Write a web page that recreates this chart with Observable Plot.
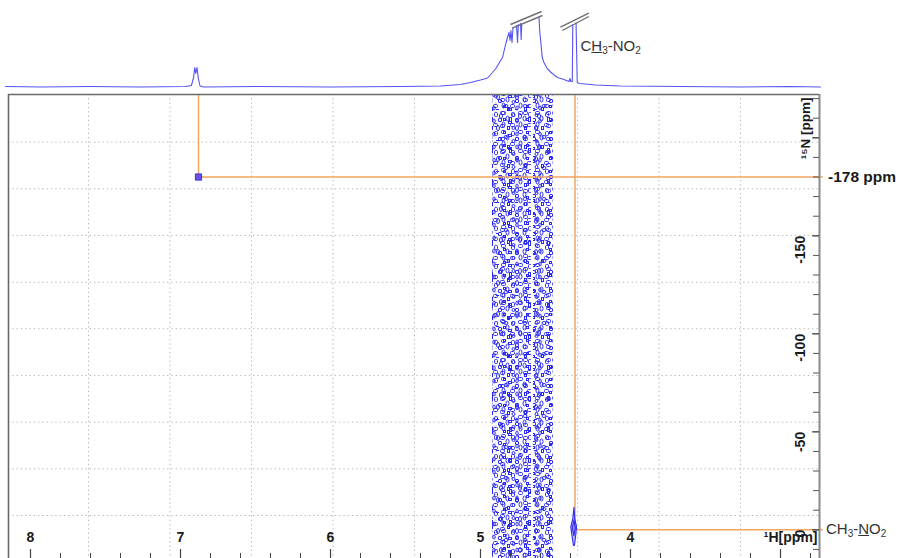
<!DOCTYPE html>
<html><head><meta charset="utf-8">
<script src="https://cdn.jsdelivr.net/npm/d3@7"></script>
<script src="https://cdn.jsdelivr.net/npm/@observablehq/plot@0.6"></script>
<style>
html,body{margin:0;padding:0;background:#fff;}
#chart{position:relative;width:900px;height:558px;overflow:hidden;font-family:"Liberation Sans",Arial,sans-serif;background:#fff;}
#chart svg{display:block;}
.ann{position:absolute;white-space:nowrap;color:#333;font-size:15px;line-height:18px;height:18px;}
.ann sub{font-size:10px;line-height:0;vertical-align:-3px;}
.bold{font-weight:bold;color:#1a1a1a;font-size:15.5px;}
</style></head><body>
<svg width="0" height="0" style="position:absolute">
  <defs>
    <pattern id="noiseA" patternUnits="userSpaceOnUse" width="17" height="19">
      <g fill="none" stroke="#2b2bef" stroke-width="1">
        <rect x="1.5" y="1.5" width="3" height="4" rx="1"/>
        <rect x="8.5" y="0.5" width="4" height="3" rx="1"/>
        <ellipse cx="14.5" cy="7.5" rx="1.5" ry="2.5"/>
        <rect x="5.5" y="7.5" width="3" height="3" rx="0.5"/>
        <rect x="0.5" y="12.5" width="4" height="3" rx="1"/>
        <ellipse cx="10.5" cy="13.5" rx="1.5" ry="2.5"/>
        <rect x="14.5" y="15.5" width="2" height="3"/>
      </g>
    </pattern>
    <pattern id="noiseB" patternUnits="userSpaceOnUse" width="23" height="13">
      <g fill="none" stroke="#2b2bef" stroke-width="1">
        <rect x="2.5" y="3.5" width="3" height="2"/>
        <ellipse cx="11" cy="3" rx="1.2" ry="2"/>
        <rect x="17.5" y="6.5" width="4" height="3" rx="1"/>
        <ellipse cx="7.5" cy="10" rx="1.5" ry="1.5"/>
        <rect x="20.5" y="0.5" width="2" height="2"/>
      </g>
    </pattern>
    <pattern id="noiseC" patternUnits="userSpaceOnUse" width="19" height="31">
      <g fill="none" stroke="#2b2bef" stroke-width="1">
        <ellipse cx="4" cy="5" rx="1.5" ry="2.5"/>
        <ellipse cx="12" cy="14" rx="2" ry="1.5"/>
        <ellipse cx="7" cy="24" rx="1.5" ry="2.5"/>
        <rect x="15.5" y="25.5" width="2" height="4"/>
        <path d="M2 17.5h3"/>
      </g>
    </pattern>
  </defs>
</svg>
<div id="chart"></div>
<script>
// ---------- data ----------
const H1_DOMAIN = [8.1467, 2.74];      // 1H ppm, left -> right
const N15_DOMAIN = [14.64, -222.1];    // 15N ppm, bottom -> top

// 1D 1H projection trace: [ppm, intensity]; null = off-scale (hidden behind break marks)
const spectrum = [
  [8.167,1],[7.933,0.5],[7.6,1],[7.267,0.5],[6.967,1],[6.927,2],[6.913,10],[6.905,20],[6.898,14],
  [6.89,20],[6.881,9],[6.87,1.5],[6.847,0.5],[6.467,1],[6.0,0.5],[5.533,1],[5.267,1.5],[5.133,3],
  [5.067,5],[5.0,7.5],[4.953,9.5],[4.92,15],[4.9,18.5],[4.88,23.5],[4.853,30],[4.833,43],[4.82,50],
  [4.81,55],[4.803,47],[4.797,57],[4.79,45],[4.783,60],[4.78,null],[4.76,62],[4.753,45],[4.748,63],
  [4.745,null],[4.733,64],[4.729,48],[4.725,64],[4.72,null],[4.61,70],[4.605,56],[4.599,47],[4.589,31],
  [4.58,26],[4.567,22],[4.553,18.5],[4.533,15.5],[4.513,13],[4.487,10],[4.453,8.5],[4.427,7],[4.41,6],
  [4.403,9],[4.398,6],[4.388,6],[4.385,63],[4.38,null],[4.363,64.5],[4.355,5],[4.34,4],[4.3,3.5],
  [4.233,2.5],[4.067,1.5],[3.667,1],[3.267,0.5],[2.933,1],[2.733,0.5]
];

// "//" break marks on the off-scale peaks
const breakMarks = [
  {x1: 4.800, y1: 63, x2: 4.593, y2: 76},
  {x1: 4.789, y1: 59.3, x2: 4.587, y2: 72},
  {x1: 4.467, y1: 60.3, x2: 4.278, y2: 74.3},
  {x1: 4.455, y1: 57, x2: 4.278, y2: 71}
];

// cross peaks (1H ppm, 15N ppm)
const crossPeaks = [
  {h: 6.88, n: -180},
  {h: 4.37, n: 0}
];

// contour rings of the CH3-NO2 cross peak
const ch3Contours = [
  {ring: "outer", h: 4.377, n: -11.5}, {ring: "outer", h: 4.372, n: -6}, {ring: "outer", h: 4.360, n: -1.5},
  {ring: "outer", h: 4.364, n: 2}, {ring: "outer", h: 4.374, n: 8}, {ring: "outer", h: 4.380, n: 8},
  {ring: "outer", h: 4.392, n: 2}, {ring: "outer", h: 4.398, n: -1.5}, {ring: "outer", h: 4.384, n: -6},
  {ring: "outer", h: 4.377, n: -11.5},
  {ring: "inner", h: 4.377, n: -5}, {ring: "inner", h: 4.368, n: -1}, {ring: "inner", h: 4.377, n: 3},
  {ring: "inner", h: 4.388, n: -1}, {ring: "inner", h: 4.377, n: -5}
];

// t1-noise streaks (1H ppm extents)
const noiseBands = [[4.92, 4.66], [4.647, 4.513]];

// dotted grid positions
const gridH1 = [7.613, 7.07, 6.527, 5.983, 5.44, 4.897, 4.353, 3.81, 3.267];
const gridN15 = [-197.8, -174.0, -150.2, -126.3, -102.6, -78.7, -54.9, -31.1, -7.3];

// ticks and tick labels
const h1Major = [3, 4, 5, 6, 7, 8];
const h1Minor = d3.range(2.8, 8.01, 0.2).map(v => +v.toFixed(1));
const h1Labels = [8, 7, 6, 5, 4];
const n15Major = [-200, -150, -100, -50, 0];
const n15Minor = d3.range(-220, 11, 10);
const n15Labels = [-150, -100, -50, 0];

// ---------- drawing ----------
const ORANGE = "#f4a65c";
const BLUE = "#2b2bef";
const W = 900, ML = 8, MR = 81;
const TOP_H = 92, BOT_H = 466, BOT_MT = 2;
const innerW = W - ML - MR;
const innerH = BOT_H - BOT_MT;
const font = "Liberation Sans, Arial, sans-serif";

const topPlot = Plot.plot({
  width: W, height: TOP_H, marginLeft: ML, marginRight: MR, marginTop: 0, marginBottom: 5,
  x: {domain: H1_DOMAIN, axis: null},
  y: {domain: [0, 87], axis: null},
  style: {background: "transparent", overflow: "visible", fontFamily: font},
  marks: [
    Plot.line(spectrum, {x: d => d[0], y: d => d[1], stroke: "#5555f3", strokeWidth: 1.1}),
    Plot.link(breakMarks, {x1: "x1", y1: "y1", x2: "x2", y2: "y2", stroke: "#707070", strokeWidth: 1.4})
  ]
});

const yTop = () => N15_DOMAIN[1];
const yBot = () => N15_DOMAIN[0];

const bottomPlot = Plot.plot({
  width: W, height: BOT_H, marginLeft: ML, marginRight: MR, marginTop: BOT_MT, marginBottom: 0,
  x: {domain: H1_DOMAIN, axis: null},
  y: {domain: N15_DOMAIN, axis: null},
  style: {background: "transparent", overflow: "visible", fontFamily: font},
  marks: [
    Plot.ruleX(gridH1, {x: d => d, stroke: "#b4b4b4", strokeDasharray: "1.3,3"}),
    Plot.ruleY(gridN15, {y: d => d, stroke: "#b4b4b4", strokeDasharray: "1.3,3"}),
    Plot.rect(noiseBands, {x1: d => d[0], x2: d => d[1], y1: yBot, y2: yTop, fill: "url(#noiseA)"}),
    Plot.rect(noiseBands, {x1: d => d[0], x2: d => d[1], y1: yBot, y2: yTop, fill: "url(#noiseB)"}),
    Plot.rect(noiseBands, {x1: d => d[0], x2: d => d[1], y1: yBot, y2: yTop, fill: "url(#noiseC)"}),
    Plot.ruleX(crossPeaks, {x: "h", y1: yTop, y2: "n", stroke: ORANGE, strokeWidth: 1.5}),
    Plot.ruleY(crossPeaks, {y: "n", x1: "h", x2: () => 2.715, stroke: ORANGE, strokeWidth: 1.5}),
    Plot.line(ch3Contours, {x: "h", y: "n", z: "ring", stroke: BLUE, strokeWidth: 1.1, fill: "#7a6cf2", fillOpacity: 0.45}),
    Plot.dot(crossPeaks.slice(0, 1), {x: "h", y: "n", symbol: "square", r: 3.5, fill: "#6a52e4", stroke: "#3d31d6", strokeWidth: 1}),
    // frame
    Plot.ruleY([N15_DOMAIN[1]], {y: d => d, stroke: "#6a6a6a", strokeWidth: 1.6}),
    Plot.ruleX([H1_DOMAIN[0]], {x: d => d, stroke: "#6a6a6a", strokeWidth: 1.6}),
    Plot.ruleX([H1_DOMAIN[1]], {x: d => d, stroke: "#8a8a8a", strokeWidth: 2}),
    // x ticks (inside, from bottom edge)
    Plot.ruleX(h1Minor, {x: d => d, insetTop: innerH - 5, stroke: "#444", strokeWidth: 1}),
    Plot.ruleX(h1Major, {x: d => d, insetTop: innerH - 9, stroke: "#444", strokeWidth: 1.2}),
    Plot.text(h1Labels, {x: d => d, frameAnchor: "bottom", dy: -17, text: d => String(d),
      fontWeight: "bold", fontSize: 14, fill: "#1a1a1a"}),
    Plot.text(["\u00B9H[ppm]"], {frameAnchor: "bottom-right", dx: -2, dy: -17, textAnchor: "end",
      text: d => d, fontWeight: "bold", fontSize: 14, fill: "#1a1a1a"}),
    // y ticks (inside, from right edge)
    Plot.ruleY(n15Minor, {y: d => d, insetLeft: innerW - 6, stroke: "#555", strokeWidth: 1}),
    Plot.ruleY(n15Major, {y: d => d, insetLeft: innerW - 7, stroke: "#555", strokeWidth: 1.2}),
    Plot.text(n15Labels, {y: d => d, frameAnchor: "right", dx: -19, rotate: -90, text: d => String(d),
      fontWeight: "bold", fontSize: 14, fill: "#1a1a1a"}),
    Plot.text(["\u00B9\u2075N [ppm]"], {frameAnchor: "top-right", dx: -19, dy: 3, rotate: -90, textAnchor: "end",
      text: d => d, fontWeight: "bold", fontSize: 13.5, fill: "#1a1a1a"})
  ]
});

const chart = document.getElementById("chart");
chart.appendChild(topPlot);
chart.appendChild(bottomPlot);

// annotations positioned through the plots' scales
const xs = bottomPlot.scale("x"), ys = bottomPlot.scale("y");
const ysTop = topPlot.scale("y"), xsTop = topPlot.scale("x");
function addAnn(html, left, centerY, cls) {
  const d = document.createElement("div");
  d.className = "ann" + (cls ? " " + cls : "");
  d.innerHTML = html;
  d.style.left = left + "px";
  d.style.top = (centerY - 9) + "px";
  chart.appendChild(d);
}
const axisRight = xs.apply(H1_DOMAIN[1]);
addAnn("-178 ppm", axisRight + 9, TOP_H + ys.apply(crossPeaks[0].n), "bold");
addAnn("CH<sub>3</sub>-<u>N</u>O<sub>2</sub>", axisRight + 7, TOP_H + ys.apply(crossPeaks[1].n));
addAnn("C<u>H</u><sub>3</sub>-NO<sub>2</sub>", xsTop.apply(crossPeaks[1].h) + 6, ysTop.apply(41));
</script>
</body></html>
